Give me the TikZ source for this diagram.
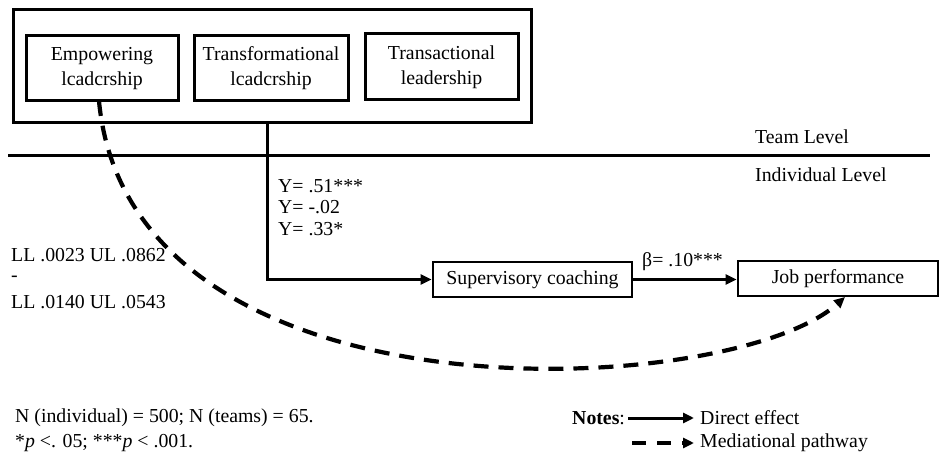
\documentclass[tikz,border=0pt]{standalone}
\usepackage{fontspec}
\setmainfont{Liberation Serif}
\usetikzlibrary{arrows.meta}
\begin{document}
\begin{tikzpicture}[x=1pt,y=-1pt,
  every node/.style={font=\fontsize{19.8}{24}\selectfont},
  box/.style={draw,line width=3pt,inner sep=0pt,align=center},
  lbl/.style={anchor=west,inner sep=0pt},
  solidarrow/.style={line width=3pt,-{Triangle[length=11pt,width=10pt]}},
  dasharrow/.style={line width=4.2pt,dash pattern=on 15pt off 10pt,-{Triangle[length=11pt,width=10pt]}}]
\useasboundingbox (0,0) rectangle (942,462);
% team-level outer box
\node[draw,line width=3pt,minimum width=518pt,minimum height=113pt,inner sep=0pt] (team) at (272,66.5) {};
\node[box,minimum width=152pt,minimum height=65pt] (emp) at (102,68.5) {Empowering\\[1pt]lcadcrship};
\node[box,minimum width=154pt,minimum height=65pt] (trf) at (271,68.5) {Transformational\\[1pt]lcadcrship};
\node[box,minimum width=153pt,minimum height=66pt] (trs) at (441.5,67) {Transactional\\[1pt]leadership};
% level line
\coordinate (lvlA) at (8,155.5);
\coordinate (lvlB) at (930,155.5);
\draw[line width=2.2pt] (lvlA) -- (lvlB);
\node[lbl] (teamlvl) at (755,137) {Team Level};
\node[lbl] (indlvl) at (755,175) {Individual Level};
% individual-level boxes
\node[box,line width=2.8pt,minimum width=199pt,minimum height=35pt] (sup) at (532.5,279.5) {Supervisory coaching};
\node[box,line width=2.8pt,minimum width=200pt,minimum height=35pt] (job) at (838,278.5) {Job performance};
% direct path from team level
\coordinate (tstart) at (267,123);
\draw[solidarrow] (tstart) |- (sup.west);
\node[lbl] (y1) at (278,186) {Y= .51***};
\node[lbl] (y2) at (278,207.5) {Y= -.02};
\node[lbl] (y3) at (278,229) {Y= .33*};
% coaching -> performance
\draw[solidarrow] (sup.east) -- (sup.east -| job.west);
\node[lbl] (beta) at (642,262) {β= .10***};
% mediational pathway
\coordinate (empout) at (99,101);
\coordinate (medin) at (845,297);
\draw[dasharrow] (empout) .. controls (130,430) and (730,400) .. (medin);
\node[lbl] (ll1) at (11,255) {LL .0023 UL .0862};
\node[lbl] (ll2) at (11,279) {-};
\node[lbl] (ll3) at (11,302) {LL .0140 UL .0543};
% footnotes
\node[lbl] (nn) at (15,418) {N (individual) = 500; N (teams) = 65.};
\node[lbl] (pp) at (15,443) {*\textit{p} <. 05; ***\textit{p} < .001.};
% legend
\node[lbl] (notes) at (572,418) {\textbf{Notes}:};
\coordinate (la1) at (628,418);
\coordinate (la2) at (694,418);
\draw[solidarrow] (la1) -- (la2);
\node[lbl] (ld) at (700,418) {Direct effect};
\coordinate (lb1) at (632,443);
\coordinate (lb2) at (694,443);
\draw[dasharrow,line width=3.6pt,dash pattern=on 14pt off 11pt] (lb1) -- (lb2);
\node[lbl] (lm) at (700,443) {Mediational pathway};
\end{tikzpicture}
\end{document}
